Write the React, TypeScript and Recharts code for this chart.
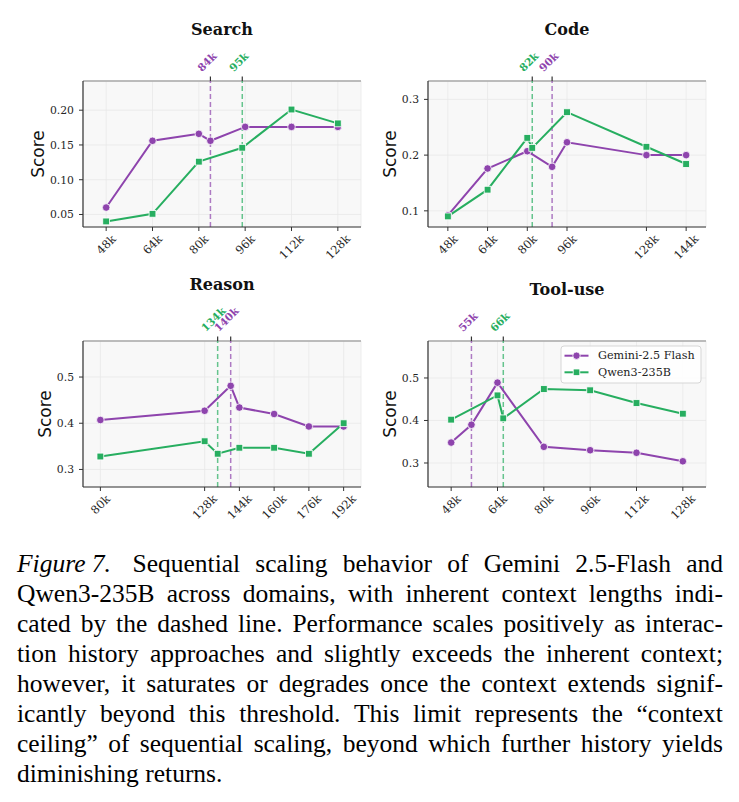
import React from 'react';
import { LineChart, Line, XAxis, YAxis, CartesianGrid, ReferenceLine } from 'recharts';

const PURPLE = '#8E44AD';
const GREEN = '#27AE60';
const SERIES_NAMES = ['Gemini-2.5 Flash', 'Qwen3-235B'];

// ---- Search ----
const searchGeminiX = [48, 64, 80, 84, 96, 112, 128];
const searchGeminiY = [0.06, 0.156, 0.166, 0.156, 0.176, 0.176, 0.176];
const searchQwenX = [48, 64, 80, 95, 112, 128];
const searchQwenY = [0.04, 0.051, 0.126, 0.146, 0.201, 0.181];
const searchXTicks = [48, 64, 80, 96, 112, 128];
const searchYTicks = [0.05, 0.1, 0.15, 0.2];
const searchContext = { gemini: 84, qwen: 95 };

// ---- Code ----
const codeGeminiX = [48, 64, 80, 90, 96, 128, 144];
const codeGeminiY = [0.092, 0.176, 0.207, 0.179, 0.223, 0.2, 0.2];
const codeQwenX = [48, 64, 80, 82, 96, 128, 144];
const codeQwenY = [0.09, 0.138, 0.231, 0.213, 0.277, 0.215, 0.184];
const codeXTicks = [48, 64, 80, 96, 128, 144];
const codeYTicks = [0.1, 0.2, 0.3];
const codeContext = { gemini: 90, qwen: 82 };

// ---- Reason ----
const reasonGeminiX = [80, 128, 140, 144, 160, 176, 192];
const reasonGeminiY = [0.407, 0.427, 0.481, 0.434, 0.42, 0.393, 0.393];
const reasonQwenX = [80, 128, 134, 144, 160, 176, 192];
const reasonQwenY = [0.328, 0.361, 0.334, 0.347, 0.347, 0.334, 0.4];
const reasonXTicks = [80, 128, 144, 160, 176, 192];
const reasonYTicks = [0.3, 0.4, 0.5];
const reasonContext = { gemini: 140, qwen: 134 };

// ---- Tool-use ----
const toolGeminiX = [48, 55, 64, 80, 96, 112, 128];
const toolGeminiY = [0.348, 0.39, 0.489, 0.338, 0.33, 0.324, 0.304];
const toolQwenX = [48, 64, 66, 80, 96, 112, 128];
const toolQwenY = [0.402, 0.459, 0.405, 0.474, 0.471, 0.441, 0.416];
const toolXTicks = [48, 64, 80, 96, 112, 128];
const toolYTicks = [0.3, 0.4, 0.5];
const toolContext = { gemini: 55, qwen: 66 };

const CAPTION_LABEL = 'Figure 7.';
const CAPTION_LINES = [
  'Sequential scaling behavior of Gemini 2.5-Flash and',
  'Qwen3-235B across domains, with inherent context lengths indi-',
  'cated by the dashed line. Performance scales positively as interac-',
  'tion history approaches and slightly exceeds the inherent context;',
  'however, it saturates or degrades once the context extends signif-',
  'icantly beyond this threshold. This limit represents the \u201ccontext',
  'ceiling\u201d of sequential scaling, beyond which further history yields',
  'diminishing returns.',
];

const zip = (xs: number[], ys: number[]) => xs.map((x, i) => ({ x, y: ys[i] }));

const SERIF = '"DejaVu Serif", serif';
const SANS = '"DejaVu Sans", sans-serif';
const XTICK_FS = 11.5;
const YTICK_FS = 10.8;

const XTick = (props: any) => {
  const { x, y, payload } = props;
  const label = `${payload.value}k`;
  const w = label.length * 0.62 * XTICK_FS;
  const h = 0.73 * XTICK_FS;
  const cy = y + (w + h) / (2 * Math.SQRT2);
  return (
    <text
      x={x}
      y={cy}
      textAnchor="middle"
      dominantBaseline="central"
      transform={`rotate(-45 ${x} ${cy})`}
      fontSize={XTICK_FS}
      fontFamily={SERIF}
      fill="#262626"
    >
      {label}
    </text>
  );
};

const thresholdLabel = (color: string, value: number) => (props: any) => {
  const vb = props.viewBox || {};
  const x = vb.x;
  const top = vb.y;
  const text = `${value}k`;
  const fs = 10.5;
  const w = text.length * 0.68 * fs;
  const h = 0.73 * fs;
  const cx = x - 1 - 0.12 * w;
  const cy = top - 9 - (w + h) / (2 * Math.SQRT2);
  return (
    <g>
      <line x1={x} x2={x} y1={top - 4.5} y2={top} stroke="#333" strokeWidth={1.2} />
      <text
        x={cx}
        y={cy}
        textAnchor="middle"
        dominantBaseline="central"
        transform={`rotate(-45 ${cx} ${cy})`}
        fontSize={fs}
        fontWeight="bold"
        fontFamily={SERIF}
        fill={color}
      >
        {text}
      </text>
    </g>
  );
};

const SquareDot = (props: any) => {
  const { cx, cy, index } = props;
  if (cx == null || cy == null) return <g key={index} />;
  const s = 6.8;
  return (
    <rect
      key={index}
      x={cx - s / 2}
      y={cy - s / 2}
      width={s}
      height={s}
      fill={GREEN}
      stroke="#fff"
      strokeWidth={0.8}
    />
  );
};

type PanelCfg = {
  title: string;
  titleBaseline: number;
  scoreOffset: number;
  left: number;
  top: number;
  width: number;
  height: number;
  plot: { x: number; y: number; w: number; h: number };
  xDomain: [number, number];
  yDomain: [number, number];
  xTicks: number[];
  yTicks: number[];
  yDecimals: number;
  gem: { x: number; y: number }[];
  qwen: { x: number; y: number }[];
  ctx: { gemini: number; qwen: number };
};

const panels: PanelCfg[] = [
  {
    title: 'Search',
    titleBaseline: 35,
    scoreOffset: 45.5,
    left: 0,
    top: 0,
    width: 370,
    height: 270,
    plot: { x: 83, y: 81, w: 278, h: 146 },
    xDomain: [40, 136],
    yDomain: [0.032, 0.242],
    xTicks: searchXTicks,
    yTicks: searchYTicks,
    yDecimals: 2,
    gem: zip(searchGeminiX, searchGeminiY),
    qwen: zip(searchQwenX, searchQwenY),
    ctx: searchContext,
  },
  {
    title: 'Code',
    titleBaseline: 35,
    scoreOffset: 38,
    left: 370,
    top: 0,
    width: 369,
    height: 270,
    plot: { x: 428, y: 81, w: 278, h: 146 },
    xDomain: [40, 152],
    yDomain: [0.071, 0.333],
    xTicks: codeXTicks,
    yTicks: codeYTicks,
    yDecimals: 1,
    gem: zip(codeGeminiX, codeGeminiY),
    qwen: zip(codeQwenX, codeQwenY),
    ctx: codeContext,
  },
  {
    title: 'Reason',
    titleBaseline: 290,
    scoreOffset: 38,
    left: 0,
    top: 270,
    width: 370,
    height: 270,
    plot: { x: 83, y: 341, w: 278, h: 146 },
    xDomain: [72, 200],
    yDomain: [0.262, 0.578],
    xTicks: reasonXTicks,
    yTicks: reasonYTicks,
    yDecimals: 1,
    gem: zip(reasonGeminiX, reasonGeminiY),
    qwen: zip(reasonQwenX, reasonQwenY),
    ctx: reasonContext,
  },
  {
    title: 'Tool-use',
    titleBaseline: 295,
    scoreOffset: 38,
    left: 370,
    top: 270,
    width: 369,
    height: 270,
    plot: { x: 428, y: 341, w: 278, h: 146 },
    xDomain: [40, 136],
    yDomain: [0.2435, 0.587],
    xTicks: toolXTicks,
    yTicks: toolYTicks,
    yDecimals: 1,
    gem: zip(toolGeminiX, toolGeminiY),
    qwen: zip(toolQwenX, toolQwenY),
    ctx: toolContext,
  },
];

const Y_W = 40;
const X_H = 40;

function Panel({ cfg }: { cfg: PanelCfg }) {
  const { left, top, width, height, plot } = cfg;
  const margin = {
    left: plot.x - left - Y_W,
    top: plot.y - top,
    right: left + width - (plot.x + plot.w),
    bottom: top + height - (plot.y + plot.h) - X_H,
  };
  return (
    <div style={{ position: 'absolute', left, top, width, height }}>
      <LineChart width={width} height={height} margin={margin}>
        <CartesianGrid fill="#f8f8f8" stroke="#e9e9e9" strokeWidth={0.8} />
        <XAxis
          type="number"
          dataKey="x"
          domain={cfg.xDomain}
          ticks={cfg.xTicks}
          allowDataOverflow
          height={X_H}
          tick={<XTick />}
          tickSize={4}
          tickMargin={3}
          interval={0}
          axisLine={{ stroke: '#333', strokeWidth: 1.2 }}
          tickLine={{ stroke: '#333', strokeWidth: 1 }}
        />
        <YAxis
          type="number"
          domain={cfg.yDomain}
          ticks={cfg.yTicks}
          allowDataOverflow
          width={Y_W}
          tickFormatter={(v: number) => v.toFixed(cfg.yDecimals)}
          tick={{ fontSize: YTICK_FS, fontFamily: SERIF, fill: '#262626' }}
          tickSize={4}
          tickMargin={5}
          interval={0}
          axisLine={{ stroke: '#333', strokeWidth: 1.2 }}
          tickLine={{ stroke: '#333', strokeWidth: 1 }}
        />
        <ReferenceLine y={cfg.yDomain[1]} stroke="#a8a8a8" strokeWidth={1.5} />
        <ReferenceLine
          x={cfg.ctx.gemini}
          stroke={PURPLE}
          strokeOpacity={0.7}
          strokeWidth={1.5}
          strokeDasharray="5 3"
          label={thresholdLabel(PURPLE, cfg.ctx.gemini)}
        />
        <ReferenceLine
          x={cfg.ctx.qwen}
          stroke={GREEN}
          strokeOpacity={0.7}
          strokeWidth={1.5}
          strokeDasharray="5 3"
          label={thresholdLabel(GREEN, cfg.ctx.qwen)}
        />
        <Line
          data={cfg.gem}
          dataKey="y"
          name={SERIES_NAMES[0]}
          type="linear"
          stroke={PURPLE}
          strokeWidth={2}
          dot={{ r: 3.8, fill: PURPLE, stroke: '#fff', strokeWidth: 0.8 }}
          isAnimationActive={false}
        />
        <Line
          data={cfg.qwen}
          dataKey="y"
          name={SERIES_NAMES[1]}
          type="linear"
          stroke={GREEN}
          strokeWidth={2}
          dot={<SquareDot />}
          isAnimationActive={false}
        />
      </LineChart>
    </div>
  );
}

function Overlay() {
  const lg = { x: 561, y: 346, w: 140, h: 37 };
  const rows = [lg.y + 9.7, lg.y + 26.3];
  return (
    <svg
      width={739}
      height={540}
      style={{ position: 'absolute', left: 0, top: 0, pointerEvents: 'none' }}
    >
      {panels.map((p) => (
        <g key={p.title}>
          <text
            x={p.plot.x + p.plot.w / 2}
            y={p.titleBaseline}
            textAnchor="middle"
            fontSize={16}
            fontWeight="bold"
            fontFamily={SERIF}
            fill="#111"
          >
            {p.title}
          </text>
          <text
            x={p.plot.x - p.scoreOffset}
            y={p.plot.y + p.plot.h / 2}
            textAnchor="middle"
            dominantBaseline="central"
            transform={`rotate(-90 ${p.plot.x - p.scoreOffset} ${p.plot.y + p.plot.h / 2})`}
            fontSize={17}
            fontFamily={SANS}
            fill="#111"
          >
            Score
          </text>
        </g>
      ))}
      <rect
        x={lg.x}
        y={lg.y}
        width={lg.w}
        height={lg.h}
        rx={3}
        fill="#fff"
        fillOpacity={0.85}
        stroke="#d6d6d6"
        strokeWidth={1}
      />
      <line x1={lg.x + 3.5} x2={lg.x + 27.5} y1={rows[0]} y2={rows[0]} stroke={PURPLE} strokeWidth={2} />
      <circle cx={lg.x + 15.5} cy={rows[0]} r={3.7} fill={PURPLE} stroke="#fff" strokeWidth={0.8} />
      <text x={lg.x + 37} y={rows[0]} dominantBaseline="central" fontSize={11.2} fontFamily={SERIF} fill="#222">
        {SERIES_NAMES[0]}
      </text>
      <line x1={lg.x + 3.5} x2={lg.x + 27.5} y1={rows[1]} y2={rows[1]} stroke={GREEN} strokeWidth={2} />
      <rect x={lg.x + 15.5 - 3.3} y={rows[1] - 3.3} width={6.6} height={6.6} fill={GREEN} stroke="#fff" strokeWidth={0.8} />
      <text x={lg.x + 37} y={rows[1]} dominantBaseline="central" fontSize={11.2} fontFamily={SERIF} fill="#222">
        {SERIES_NAMES[1]}
      </text>
    </svg>
  );
}

function Caption() {
  return (
    <>
      {CAPTION_LINES.map((line, i) => {
        const last = i === CAPTION_LINES.length - 1;
        const words = line.split(' ');
        return (
          <div
            key={i}
            style={{
              position: 'absolute',
              left: 17,
              top: 549 + i * 30,
              width: 706,
              display: 'flex',
              justifyContent: last ? 'flex-start' : 'space-between',
              gap: last ? '0.25em' : 0,
              whiteSpace: 'nowrap',
              fontFamily: '"Liberation Serif", "Times New Roman", serif',
              fontSize: 25.5,
              lineHeight: '30px',
              color: '#000',
            }}
          >
            {i === 0 && (
              <span style={{ marginRight: '0.25em' }}>
                <i>{CAPTION_LABEL}</i>
              </span>
            )}
            {words.map((w, j) => (
              <span key={j}>{w}</span>
            ))}
          </div>
        );
      })}
    </>
  );
}

export default function App() {
  return (
    <div
      style={{
        position: 'absolute',
        left: 0,
        top: 0,
        width: 739,
        height: 802,
        background: '#fff',
        overflow: 'hidden',
      }}
    >
      {panels.map((p) => (
        <Panel key={p.title} cfg={p} />
      ))}
      <Overlay />
      <Caption />
    </div>
  );
}
